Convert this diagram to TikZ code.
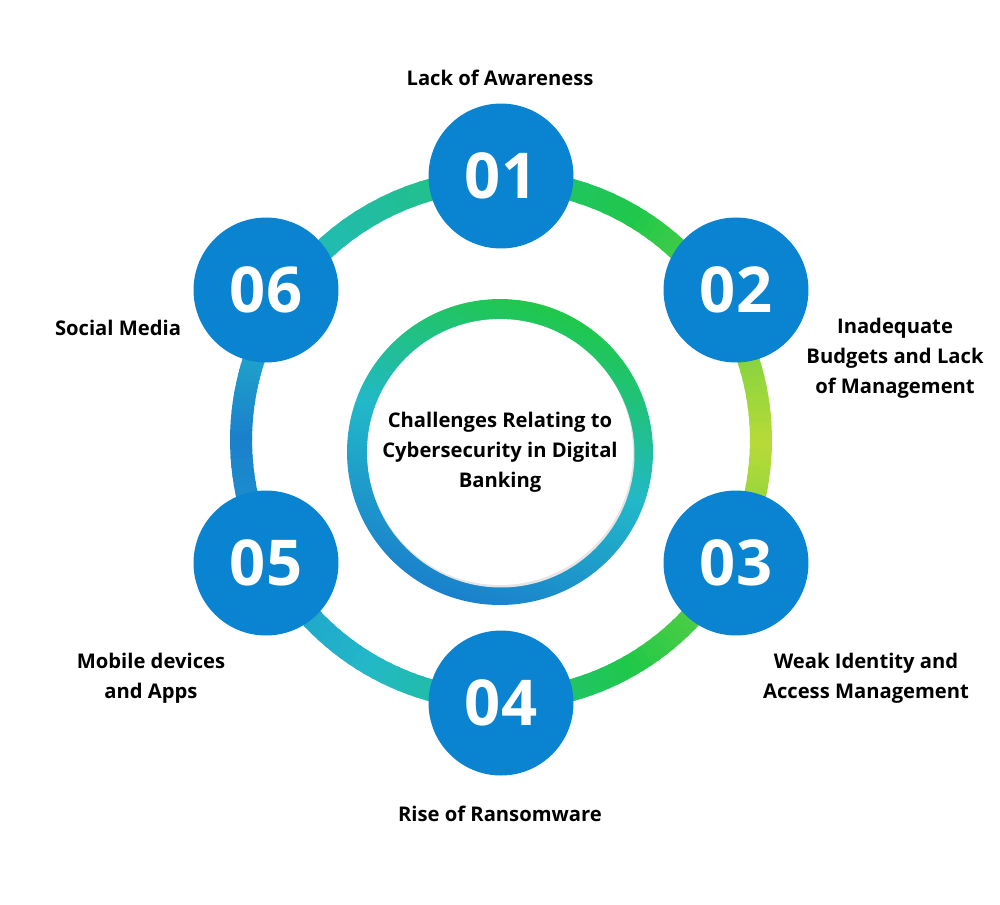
\documentclass[tikz,border=0pt]{standalone}
\usepackage{fontspec}
\setmainfont{Open Sans}
\usetikzlibrary{positioning}
\definecolor{numblue}{HTML}{0A84D0}
\definecolor{ringcyan}{HTML}{22B8C8}
\definecolor{ringgreen}{HTML}{1FC84A}
\definecolor{ringlime}{HTML}{B8DA38}
\definecolor{ringblue}{HTML}{1A80CC}
\tikzset{
  numdisc/.style={circle, fill=numblue, minimum size=2.9cm, text=white,
    font=\fontsize{36}{36}\selectfont\bfseries},
  caption/.style={align=center, font=\fontsize{11.5}{17}\selectfont\bfseries}
}
\newcommand{\ringpart}[4]{% from angle, to angle, colour a, colour b
  \foreach \t in {0,...,29}{
    \pgfmathtruncatemacro{\p}{100-\t*100/30}
    \pgfmathsetmacro{\aa}{#1+(#2-#1)*\t/30}
    \pgfmathsetmacro{\bb}{#1+(#2-#1)*(\t+1.3)/30}
    \draw[line width=0.44cm, #3!\p!#4] ([shift={(\aa:5.2cm)}]501,440) arc[start angle=\aa, end angle=\bb, radius=5.2cm];
  }}
\begin{document}
\begin{tikzpicture}[x=0.02cm, y=-0.02cm]
\useasboundingbox (0,0) rectangle (1000,904);
% outer ring
\ringpart{150}{60}{ringcyan}{ringgreen}
\ringpart{60}{0}{ringgreen}{ringlime}
\ringpart{0}{-60}{ringlime}{ringgreen}
\ringpart{-60}{-120}{ringgreen}{ringcyan}
\ringpart{-120}{-180}{ringcyan}{ringblue}
\ringpart{180}{150}{ringblue}{ringcyan}
% inner ring
\shade[top color=ringgreen, bottom color=ringblue, middle color=ringcyan, shading angle=-20]
  (500,452) circle (3.06cm);
\fill[black!10] (501,454) circle (2.67cm);
\fill[white] (500,452) circle (2.66cm);
\node[caption] (hub) at (500,452) {Challenges Relating to\\Cybersecurity in Digital\\Banking};
% numbered discs
\node[numdisc] (n1) at (501,176) {01};
\node[numdisc] (n2) at (736,290) {02};
\node[numdisc] (n3) at (736,563) {03};
\node[numdisc] (n4) at (501,703) {04};
\node[numdisc] (n5) at (266,563) {05};
\node[numdisc] (n6) at (266,290) {06};
% captions
\node[caption] (c1) at (500,78) {Lack of Awareness};
\node[caption] (c2) at (895,358) {Inadequate\\Budgets and Lack\\of Management};
\node[caption] (c3) at (866,678) {Weak Identity and\\Access Management};
\node[caption] (c4) at (500,814) {Rise of Ransomware};
\node[caption] (c5) at (151,678) {Mobile devices\\and Apps};
\node[caption] (c6) at (118,328) {Social Media};
\end{tikzpicture}
\end{document}
